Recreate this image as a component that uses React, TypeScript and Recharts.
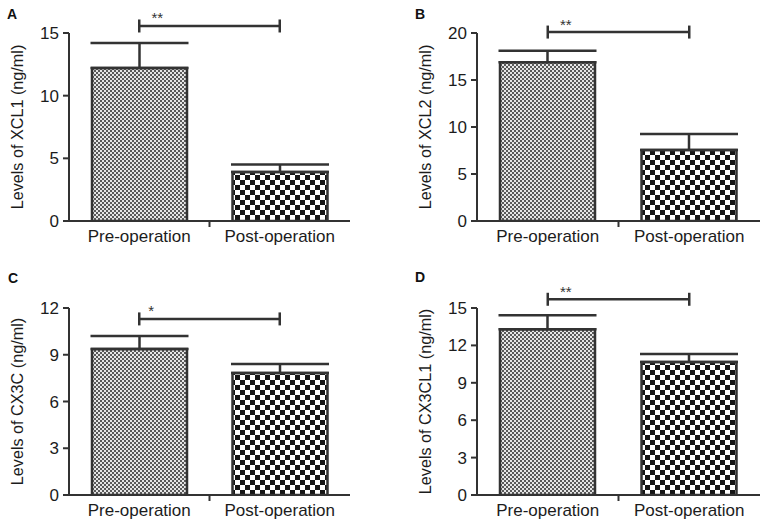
import React from "react";
import { BarChart, Bar, XAxis, YAxis, Cell, ErrorBar, ReferenceLine } from "recharts";

// shared categories
const categories = ["Pre-operation", "Post-operation"];

// panel A - XCL1
const xcl1Mean = [12.2, 3.9];
const xcl1Sem = [2.0, 0.6];
const xcl1Ticks = [0, 5, 10, 15];

// panel B - XCL2
const xcl2Mean = [16.9, 7.55];
const xcl2Sem = [1.2, 1.7];
const xcl2Ticks = [0, 5, 10, 15, 20];

// panel C - CX3C
const cx3cMean = [9.37, 7.83];
const cx3cSem = [0.83, 0.58];
const cx3cTicks = [0, 3, 6, 9, 12];

// panel D - CX3CL1
const cx3cl1Mean = [13.3, 10.67];
const cx3cl1Sem = [1.12, 0.64];
const cx3cl1Ticks = [0, 3, 6, 9, 12, 15];

// significance brackets
const sigMarks = ["**", "**", "*", "**"];
const sigLevels = [15.56, 20.1, 11.3, 15.7];

const FONT = "'Liberation Sans', Arial, sans-serif";
const INK = "#333";
const TEXT = "#1c1c1c";
const FILLS = ["url(#finecheck)", "url(#coarsecheck)"];

const CategoryTick = (props: any) => {
  const { x, y, payload, index, band } = props;
  return (
    <g>
      <text x={x} y={y} dy="0.71em" textAnchor="middle" fill={TEXT} fontSize={17} fontFamily={FONT}>
        {payload.value}
      </text>
      {index === 0 && (
        <line x1={x + band / 2} x2={x + band / 2} y1={y - 9} y2={y - 3} stroke={INK} strokeWidth={2} />
      )}
    </g>
  );
};

interface PanelProps {
  title: string;
  mean: number[];
  sem: number[];
  ticks: number[];
  sig: string;
  sigLevel: number;
  left: number;
  top: number;
  width: number;
  height: number;
  margin: { top: number; right: number; bottom: number; left: number };
}

const Panel: React.FC<PanelProps> = ({ title, mean, sem, ticks, sig, sigLevel, left, top, width, height, margin }) => {
  const data = categories.map((name, i) => ({ name, value: mean[i], err: [0, sem[i]] }));
  const yMax = ticks[ticks.length - 1];
  const plotW = width - margin.left - margin.right - 69;
  const plotH = height - margin.top - margin.bottom - 30;
  const endHalf = (6.5 * yMax) / plotH;

  return (
    <div style={{ position: "absolute", left, top }}>
      <BarChart width={width} height={height} data={data} margin={margin} barSize={95}>
        <XAxis
          dataKey="name"
          height={30}
          interval={0}
          tickLine={false}
          tickSize={6}
          tickMargin={3}
          axisLine={{ stroke: INK, strokeWidth: 2 }}
          tick={(p: any) => <CategoryTick {...p} band={plotW / 2} />}
        />
        <YAxis
          type="number"
          width={69}
          domain={[0, yMax]}
          ticks={ticks}
          allowDataOverflow
          tickSize={6}
          tickMargin={4}
          axisLine={{ stroke: INK, strokeWidth: 2 }}
          tickLine={{ stroke: INK, strokeWidth: 2 }}
          tick={{ fill: TEXT, fontSize: 17, fontFamily: FONT }}
          label={{
            value: title,
            angle: -90,
            position: "center",
            dx: -17,
            fontSize: 16.2,
            fill: TEXT,
            fontFamily: FONT,
          }}
        />
        <Bar dataKey="value" stroke={INK} strokeWidth={2.5} isAnimationActive={false}>
          {data.map((d, i) => (
            <Cell key={d.name} fill={FILLS[i]} />
          ))}
          <ErrorBar dataKey="err" width={49} stroke={INK} strokeWidth={2.5} />
        </Bar>
        <ReferenceLine
          segment={[
            { x: categories[0], y: sigLevel },
            { x: categories[1], y: sigLevel },
          ]}
          ifOverflow="visible"
          stroke={INK}
          strokeWidth={2.5}
        />
        <ReferenceLine
          segment={[
            { x: categories[0], y: sigLevel - endHalf },
            { x: categories[0], y: sigLevel + endHalf },
          ]}
          ifOverflow="visible"
          stroke={INK}
          strokeWidth={2.5}
          label={{
            value: sig,
            position: "top",
            offset: 0,
            dx: sig.length > 1 ? 18 : 12,
            dy: 4,
            fontSize: 15,
            fill: INK,
            fontFamily: FONT,
          }}
        />
        <ReferenceLine
          segment={[
            { x: categories[1], y: sigLevel - endHalf },
            { x: categories[1], y: sigLevel + endHalf },
          ]}
          ifOverflow="visible"
          stroke={INK}
          strokeWidth={2.5}
        />
      </BarChart>
    </div>
  );
};

export default function App() {
  return (
    <div
      style={{
        position: "absolute",
        left: 0,
        top: 0,
        width: 767,
        height: 527,
        background: "#fff",
        fontFamily: FONT,
        overflow: "hidden",
      }}
    >
      <svg width={0} height={0} style={{ position: "absolute" }}>
        <defs>
          <pattern id="finecheck" width={4} height={4} patternUnits="userSpaceOnUse">
            <rect width={4} height={4} fill="#e6e6e6" />
            <rect x={0} y={0} width={2} height={2} fill="#5a5a5a" />
            <rect x={2} y={2} width={2} height={2} fill="#5a5a5a" />
          </pattern>
          <pattern id="coarsecheck" width={10} height={10} patternUnits="userSpaceOnUse">
            <rect width={10} height={10} fill="#fff" />
            <rect x={0} y={0} width={5} height={5} fill="#151515" />
            <rect x={5} y={5} width={5} height={5} fill="#151515" />
          </pattern>
        </defs>
      </svg>

      <Panel
        title="Levels of XCL1 (ng/ml)"
        mean={xcl1Mean}
        sem={xcl1Sem}
        ticks={xcl1Ticks}
        sig={sigMarks[0]}
        sigLevel={sigLevels[0]}
        left={0}
        top={0}
        width={380}
        height={260}
        margin={{ top: 33, right: 30, bottom: 9, left: 0 }}
      />
      <Panel
        title="Levels of XCL2 (ng/ml)"
        mean={xcl2Mean}
        sem={xcl2Sem}
        ticks={xcl2Ticks}
        sig={sigMarks[1]}
        sigLevel={sigLevels[1]}
        left={380}
        top={0}
        width={387}
        height={260}
        margin={{ top: 33, right: 7, bottom: 9, left: 28 }}
      />
      <Panel
        title="Levels of CX3C (ng/ml)"
        mean={cx3cMean}
        sem={cx3cSem}
        ticks={cx3cTicks}
        sig={sigMarks[2]}
        sigLevel={sigLevels[2]}
        left={0}
        top={260}
        width={380}
        height={267}
        margin={{ top: 48, right: 30, bottom: 2, left: 0 }}
      />
      <Panel
        title="Levels of CX3CL1 (ng/ml)"
        mean={cx3cl1Mean}
        sem={cx3cl1Sem}
        ticks={cx3cl1Ticks}
        sig={sigMarks[3]}
        sigLevel={sigLevels[3]}
        left={380}
        top={260}
        width={387}
        height={267}
        margin={{ top: 48, right: 7, bottom: 2, left: 28 }}
      />

      <svg width={767} height={527} style={{ position: "absolute", left: 0, top: 0, pointerEvents: "none" }}>
        <g fontFamily={FONT} fontWeight="bold" fontSize={14} fill="#111">
          <text x={7} y={19}>A</text>
          <text x={415} y={19}>B</text>
          <text x={8} y={283}>C</text>
          <text x={415} y={282}>D</text>
        </g>
      </svg>
    </div>
  );
}
